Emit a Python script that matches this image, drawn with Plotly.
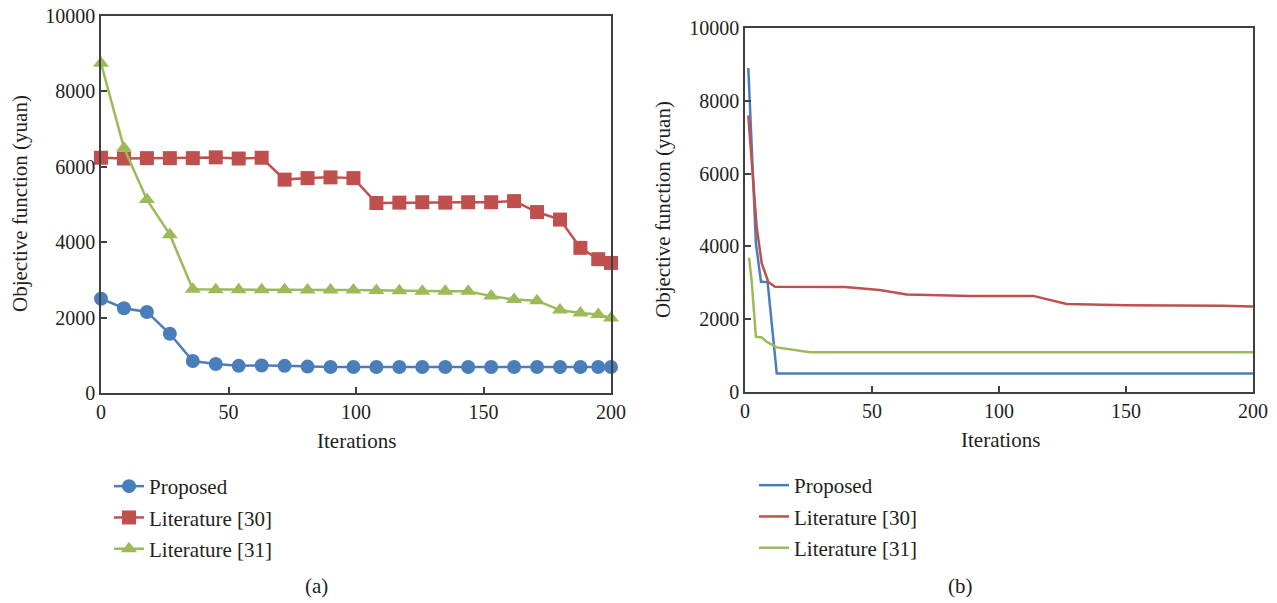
import plotly.graph_objects as go

# ---- data: panel (a) ----
iter_a = [0, 9, 18, 27, 36, 45, 54, 63, 72, 81, 90, 99, 108, 117, 126, 135, 144, 153, 162, 171, 180, 188, 195, 200]
proposed_a = [2500, 2250, 2150, 1570, 850, 770, 720, 730, 720, 700, 690, 690, 690, 690, 690, 690, 690, 690, 690, 690, 690, 690, 690, 690]
lit30_a = [6240, 6220, 6230, 6230, 6230, 6250, 6220, 6240, 5660, 5700, 5720, 5700, 5040, 5050, 5060, 5050, 5060, 5060, 5090, 4800, 4600, 3850, 3550, 3450]
lit31_a = [8750, 6500, 5130, 4200, 2750, 2740, 2740, 2740, 2740, 2730, 2730, 2730, 2720, 2710, 2700, 2700, 2700, 2570, 2480, 2450, 2200, 2120, 2080, 1990]

# ---- data: panel (b) ----
iter_b_prop = [1.3, 4.3, 6.3, 8.9, 12.5, 200]
proposed_b = [8900, 4080, 3030, 3020, 510, 510]
iter_b_30 = [1.3, 4.6, 6.6, 9.2, 11.8, 39.4, 53, 63.7, 88.6, 113.5, 126.6, 150, 188, 200]
lit30_b = [7600, 4530, 3530, 3020, 2890, 2885, 2800, 2680, 2640, 2640, 2420, 2380, 2370, 2350]
iter_b_31 = [1.6, 2.6, 4.3, 6.6, 8.5, 12.5, 25.6, 200]
lit31_b = [3690, 3070, 1520, 1500, 1380, 1225, 1090, 1090]

y_ticks = [0, 2000, 4000, 6000, 8000, 10000]
y_ticktext = ["0", "2000", "4000", "6000", "8000", "10000"]
x_ticks = [0, 50, 100, 150, 200]

names = ["Proposed", "Literature [30]", "Literature [31]"]
colors = ["#4a7ebb", "#c0504d", "#9bbb59"]
symbols = ["circle", "square", "triangle-up"]

W, H = 1277, 603
FONT = "Liberation Serif"
TXT = "#231f20"

fig = go.Figure()

for i, ys in enumerate([proposed_a, lit30_a, lit31_a]):
    fig.add_trace(go.Scatter(
        x=iter_a, y=ys, mode="lines+markers", name=names[i],
        line=dict(color=colors[i], width=2.5),
        marker=dict(symbol=symbols[i], size=14, color=colors[i]),
        cliponaxis=False, xaxis="x", yaxis="y",
        legend="legend", legendgroup="a%d" % i,
    ))

for i, (xs, ys) in enumerate([(iter_b_prop, proposed_b), (iter_b_30, lit30_b), (iter_b_31, lit31_b)]):
    fig.add_trace(go.Scatter(
        x=xs, y=ys, mode="lines", name=names[i],
        line=dict(color=colors[i], width=2.5),
        xaxis="x2", yaxis="y2",
        legend="legend2", legendgroup="b%d" % i,
    ))

def px_x(p):
    return p / W

def px_y(p):
    return 1 - p / H

axis_common = dict(
    showgrid=False, zeroline=False, showline=True, mirror=True,
    linecolor="#404040", linewidth=1.5, ticks="inside", ticklen=6,
    tickcolor="#404040", tickwidth=1.5, automargin=False,
    tickfont=dict(family=FONT, size=20, color=TXT),
)

fig.update_layout(
    width=W, height=H,
    margin=dict(l=0, r=0, t=0, b=0, pad=0, autoexpand=False),
    paper_bgcolor="white", plot_bgcolor="white",
    font=dict(family=FONT, size=21, color=TXT),
    xaxis=dict(domain=[px_x(101), px_x(611)], range=[0, 200], tickvals=x_ticks,
               anchor="y", **axis_common),
    yaxis=dict(domain=[px_y(393), px_y(16)], range=[0, 10000],
               tickvals=y_ticks, ticktext=y_ticktext, anchor="x", **axis_common),
    xaxis2=dict(domain=[px_x(745), px_x(1253)], range=[0, 200], tickvals=x_ticks,
                anchor="y2", **axis_common),
    yaxis2=dict(domain=[px_y(392), px_y(28)], range=[0, 10000],
                tickvals=y_ticks, ticktext=y_ticktext, anchor="x2", **axis_common),
    legend=dict(x=px_x(109), y=px_y(466), xanchor="left", yanchor="top",
                font=dict(family=FONT, size=21, color=TXT), tracegroupgap=1,
                bgcolor="rgba(0,0,0,0)", itemwidth=30),
    legend2=dict(x=px_x(754), y=px_y(465), xanchor="left", yanchor="top",
                 font=dict(family=FONT, size=21, color=TXT), tracegroupgap=1,
                 bgcolor="rgba(0,0,0,0)", itemwidth=30),
    showlegend=True,
)

ann = [
    dict(text="Objective function (yuan)", x=px_x(20), y=px_y(204), textangle=-90),
    dict(text="Objective function (yuan)", x=px_x(663), y=px_y(210), textangle=-90),
    dict(text="Iterations", x=px_x(356), y=px_y(441)),
    dict(text="Iterations", x=px_x(1000), y=px_y(440)),
    dict(text="(a)", x=px_x(316), y=px_y(586)),
    dict(text="(b)", x=px_x(960), y=px_y(586)),
]
for a in ann:
    fig.add_annotation(xref="paper", yref="paper", showarrow=False,
                       xanchor="center", yanchor="middle",
                       font=dict(family=FONT, size=21, color=TXT), **a)

fig.write_html("out.html",
               post_script="document.body.style.margin='0';document.body.style.overflow='hidden';")
